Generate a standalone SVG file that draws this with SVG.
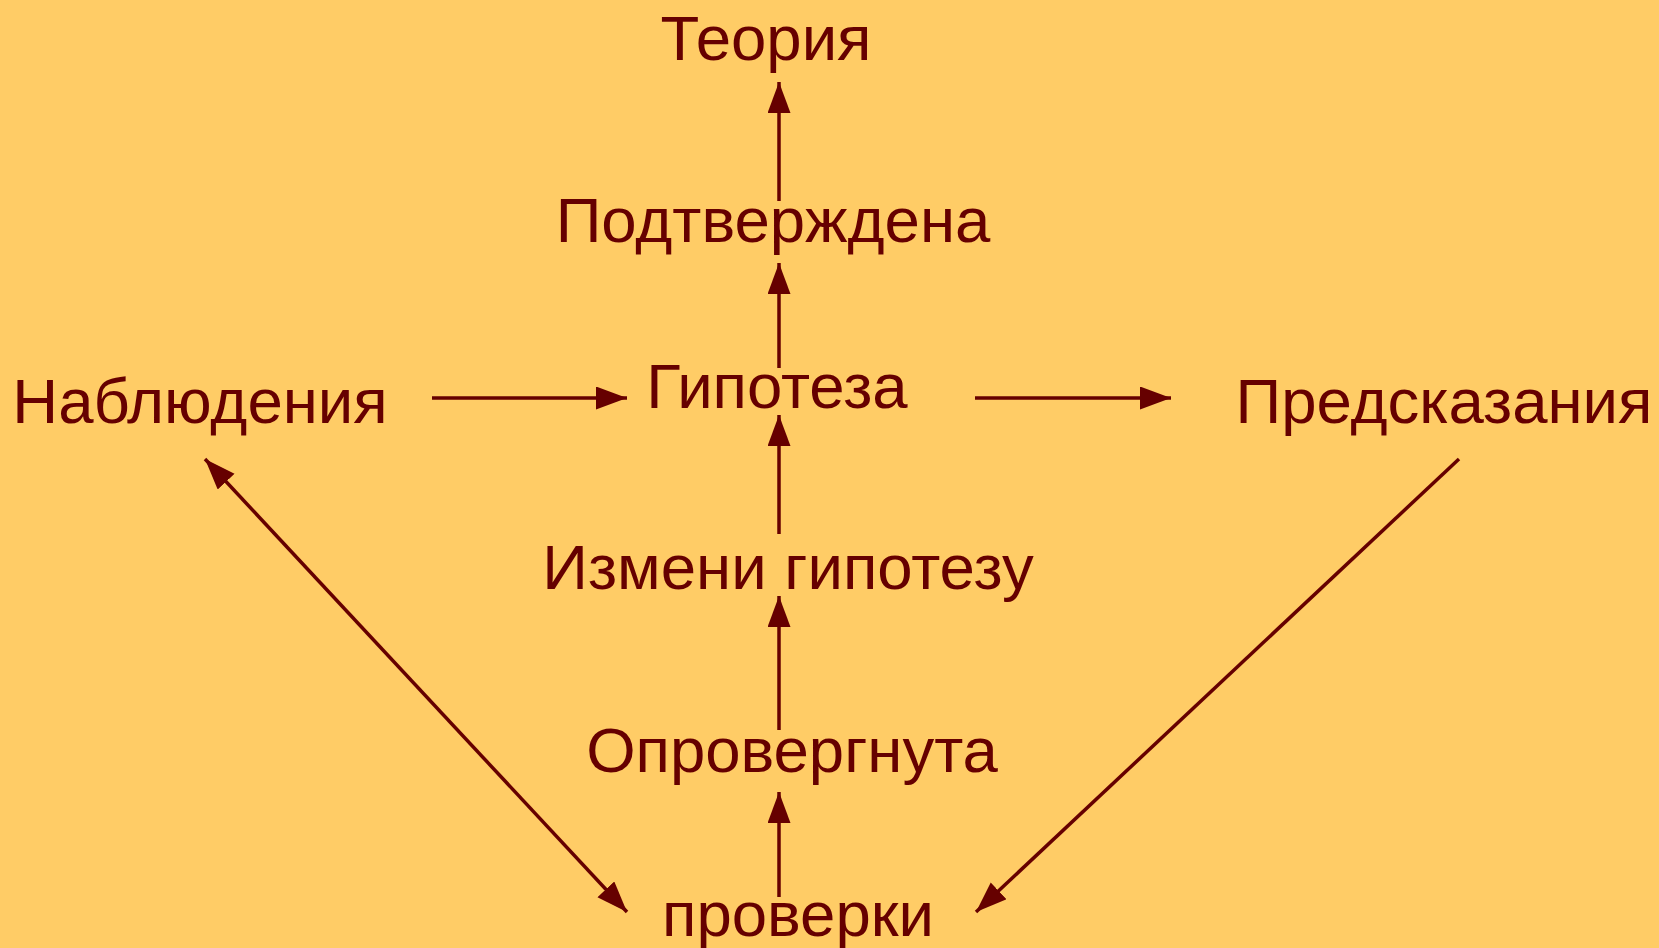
<svg xmlns="http://www.w3.org/2000/svg" width="1659" height="948" viewBox="0 0 1659 948">
<style>
.lbl{font-family:"Liberation Sans",Arial,sans-serif;font-size:63.5px;fill:#660000;text-anchor:middle}
.con{stroke:#660000;stroke-width:3.5;fill:none}
</style>
<defs>
<marker id="ah" markerUnits="userSpaceOnUse" markerWidth="32" markerHeight="24" refX="31" refY="11.5" orient="auto-start-reverse">
<path d="M0,0 L31,11.5 L0,23 z" fill="#660000"/>
</marker>
</defs>
<rect x="0" y="0" width="1659" height="948" fill="#FFCC66"/>
<g id="connectors">
<line class="con" x1="779" y1="201" x2="779" y2="82" marker-end="url(#ah)"/>
<line class="con" x1="779" y1="368" x2="779" y2="263" marker-end="url(#ah)"/>
<line class="con" x1="779" y1="534" x2="779" y2="415" marker-end="url(#ah)"/>
<line class="con" x1="779" y1="730" x2="779" y2="596" marker-end="url(#ah)"/>
<line class="con" x1="779" y1="897" x2="779" y2="792" marker-end="url(#ah)"/>
<line class="con" x1="432" y1="398" x2="627" y2="398" marker-end="url(#ah)"/>
<line class="con" x1="975" y1="398" x2="1171" y2="398" marker-end="url(#ah)"/>
<line class="con" x1="205" y1="459" x2="627" y2="912" marker-start="url(#ah)" marker-end="url(#ah)"/>
<line class="con" x1="1459" y1="459" x2="976" y2="912" marker-end="url(#ah)"/>
</g>
<g id="teoriya"><text class="lbl" x="766" y="60">Теория</text></g>
<g id="podtverzhdena"><text class="lbl" x="773" y="242">Подтверждена</text></g>
<g id="gipoteza"><text class="lbl" x="777" y="408">Гипотеза</text></g>
<g id="nablyudeniya"><text class="lbl" x="200" y="423">Наблюдения</text></g>
<g id="predskazaniya"><text class="lbl" x="1444" y="423">Предсказания</text></g>
<g id="izmeni"><text class="lbl" x="788" y="589">Измени гипотезу</text></g>
<g id="oprovergnuta"><text class="lbl" x="792" y="772">Опровергнута</text></g>
<g id="proverki"><text class="lbl" x="798" y="936">проверки</text></g>
</svg>
